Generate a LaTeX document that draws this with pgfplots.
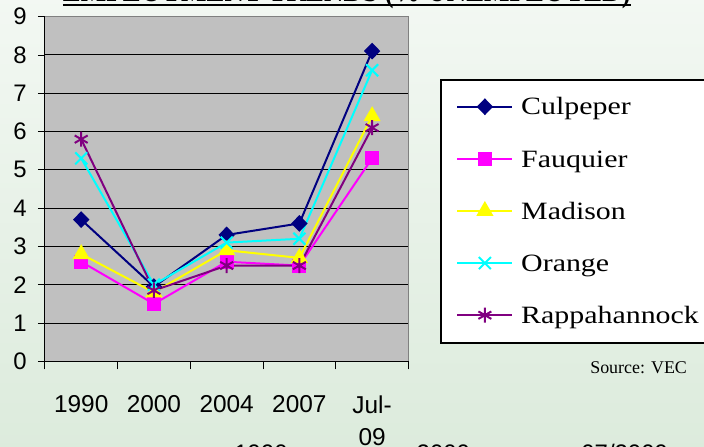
\documentclass[border=0pt]{standalone}
\usepackage{pgfplots}
\pgfplotsset{compat=1.18}
\usepackage{graphicx}
\usepackage{fontspec}
\setmainfont{Liberation Serif}
\newfontfamily\arialf{Liberation Sans}
\newfontfamily\legf[FakeStretch=1.2]{Liberation Serif}
\definecolor{bgtop}{HTML}{F3F8F3}
\definecolor{bgbot}{HTML}{DCEBDC}
\definecolor{plotbg}{HTML}{C0C0C0}
\definecolor{cCul}{RGB}{0,0,128}
\definecolor{cFau}{RGB}{255,0,255}
\definecolor{cMad}{RGB}{255,255,0}
\definecolor{cOra}{RGB}{0,255,255}
\definecolor{cRap}{RGB}{128,0,128}
\begin{document}
\begin{tikzpicture}
\useasboundingbox (0,0) rectangle (704bp,447bp);
\clip (0,0) rectangle (704bp,447bp);
\shade[top color=bgtop, bottom color=bgbot] (-5pt,-5pt) rectangle (712pt,455pt);
% title (clipped at the top)
\node[anchor=base west, inner sep=0pt] at (63pt,447.5pt) {\resizebox{570pt}{24pt}{\bfseries EMPLOYMENT TRENDS (\% UNEMPLOYED)}};
\draw[line width=2pt] (63pt,443.5pt) -- (633pt,443.5pt);
% clipped labels at the bottom
\node[anchor=base, inner sep=0pt, font=\arialf\fontsize{24}{26}\selectfont] at (262pt,-14.5pt) {1990};
\node[anchor=base, inner sep=0pt, font=\arialf\fontsize{24}{26}\selectfont] at (445pt,-14.5pt) {2000};
\node[anchor=base, inner sep=0pt, font=\arialf\fontsize{24}{26}\selectfont] at (627pt,-14.5pt) {07/2009};
% legend frame (open on the right: it runs past the picture's edge, as in the reference)
\fill[white] (443pt,104pt) rectangle (715pt,368pt);
\draw[line width=1.8pt] (715pt,368pt) -- (443pt,368pt) -- (443pt,104pt) -- (715pt,104pt);
\begin{axis}[
  at={(45pt,86pt)}, anchor=south west,
  scale only axis, width=365pt, height=346pt,
  xmin=0.5, xmax=5.5, ymin=0, ymax=9,
  axis background/.style={fill=plotbg},
  axis x line*=bottom, axis y line*=left,
  axis line style={black, line width=1pt},
  xtick={1,2,3,4,5},
  xticklabels={1990,2000,2004,2007,{Jul-\\09}},
  minor xtick={0.5,1.5,2.5,3.5,4.5,5.5},
  ytick={0,1,...,9},
  tick align=outside,
  major tick length=7pt,
  minor tick length=8pt,
  every major x tick/.append style={draw=none},
  every tick/.append style={black, line width=0.8pt},
  ymajorgrids,
  major grid style={black, line width=1pt},
  /pgf/number format/assume math mode=true,
  xticklabel style={anchor=north, inner sep=0pt, yshift=-27pt, align=center, font=\arialf\fontsize{24.5}{33}\selectfont},
  yticklabel style={anchor=east, inner sep=0pt, xshift=-11pt, font=\arialf\fontsize{24}{26}\selectfont},
  every axis plot/.append style={line width=2pt, mark options={solid}},
  legend style={at={(1.0904,0.815)}, anchor=north west, draw=none, fill=none,
    inner xsep=15pt, inner ysep=14.5pt, row sep=28.8pt,
    nodes={inner sep=0pt, text height=20pt, text depth=3.5pt},
    font=\legf\fontsize{25}{30}\selectfont},
  legend cell align=left,
  /tikz/every odd column/.append style={column sep=8pt},
  legend image code/.code={\draw[mark repeat=2, mark phase=2] plot coordinates {(0pt,0pt) (27.5pt,0pt) (55pt,0pt)};},
  after end axis/.code={
    \draw[color=gray, line width=1.5pt] (rel axis cs:0,1) -- (rel axis cs:1,1) -- (rel axis cs:1,0);
  },
]
\addplot[color=cCul, mark=diamond*, mark size=7pt, mark options={fill=cCul, xscale=1.3}] coordinates {(1,3.7) (2,1.95) (3,3.3) (4,3.6) (5,8.1)};
\addlegendentry{Culpeper}
\addplot[color=cFau, mark=square*, mark size=6pt, mark options={fill=cFau}] coordinates {(1,2.6) (2,1.5) (3,2.6) (4,2.5) (5,5.3)};
\addlegendentry{Fauquier}
\addplot[color=cMad, mark=triangle*, mark size=8pt, mark options={fill=cMad}] coordinates {(1,2.8) (2,1.8) (3,2.9) (4,2.7) (5,6.4)};
\addlegendentry{Madison}
\addplot[color=cOra, mark=x, mark size=8.5pt] coordinates {(1,5.3) (2,2.0) (3,3.1) (4,3.2) (5,7.6)};
\addlegendentry{Orange}
\addplot[color=cRap, mark=asterisk, mark size=7.5pt] coordinates {(1,5.8) (2,1.85) (3,2.5) (4,2.5) (5,6.1)};
\addlegendentry{Rappahannock}
\end{axis}
\node[anchor=base, inner sep=0pt, font=\fontsize{18}{22}\selectfont] at (641pt,74pt) {Source: VEC};
\end{tikzpicture}
\end{document}
